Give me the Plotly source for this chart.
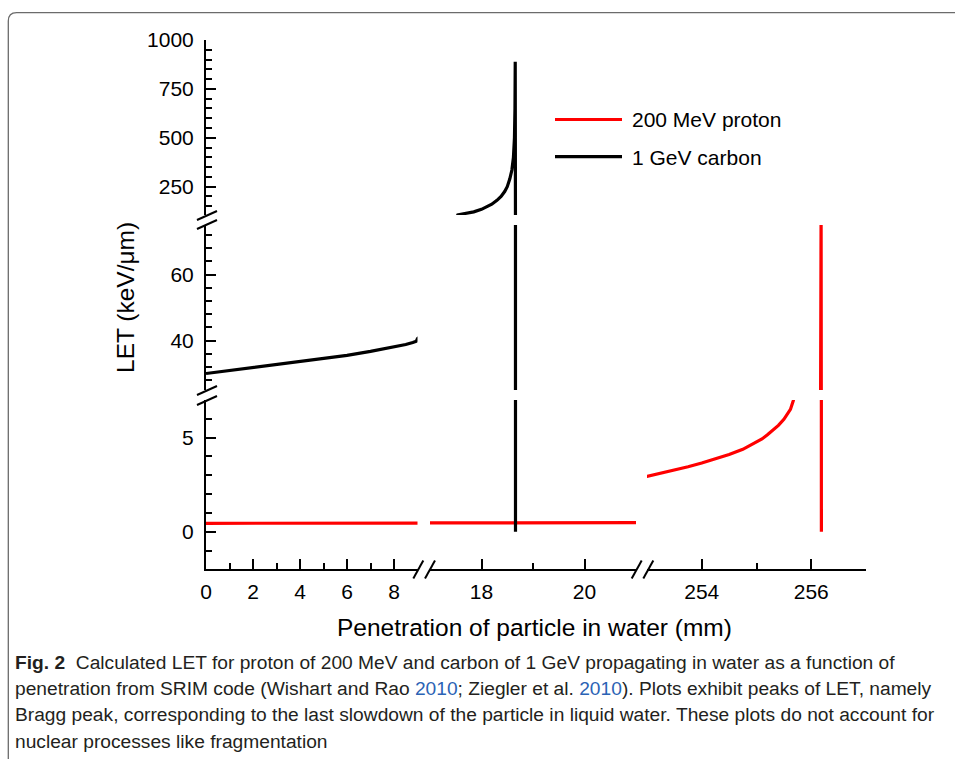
import plotly.graph_objects as go

W, H = 955, 759

# ---------------- data ----------------
proton_x = [0, 3, 6, 9, 17, 19, 21,
            253.0, 253.25, 253.5, 253.75, 254.0, 254.25, 254.5, 254.75, 255.0,
            255.1, 255.2, 255.3, 255.4, 255.5, 255.56, 255.62, 255.67, 255.72,
            256.17, 256.18, 256.185]
proton_y = [0.45, 0.46, 0.46, 0.47, 0.47, 0.48, 0.48,
            2.94, 3.1, 3.27, 3.45, 3.65, 3.87, 4.1, 4.38, 4.75,
            4.93, 5.15, 5.38, 5.65, 5.97, 6.2, 6.5, 6.95, 7.5,
            20, 80, 0]

carbon_x = [0, 1, 2, 3, 4, 5, 6, 7, 8, 8.5, 8.8, 8.95, 9.0,
            17.0, 17.5, 17.54, 17.7, 17.85, 18.0, 18.1, 18.2, 18.3, 18.38, 18.45, 18.5,
            18.55, 18.59, 18.62, 18.64, 18.65, 18.655, 18.66]
carbon_y = [30.0, 30.9, 31.8, 32.7, 33.6, 34.5, 35.5, 36.7, 38.0, 38.8, 39.4, 39.8, 40.6,
            78, 80, 106, 112, 121, 134, 145, 160, 180, 200, 225, 250,
            290, 335, 400, 500, 650, 889, 0]

series_names = ["200 MeV proton", "1 GeV carbon"]
series_colors = ["#ff0000", "#000000"]

x_ranges = [[0, 9], [17, 21], [253, 257]]
x_ticks = [[0, 2, 4, 6, 8], [18, 20], [254, 256]]
x_minor = [[1, 3, 5, 7], [19], [255, 257]]

y_ranges = [[-2, 7], [25, 75], [105, 1000]]
y_ticks = [[0, 5], [40, 60], [250, 500, 750, 1000]]
y_minor = [[-1, 1, 2, 3, 4, 6],
           [28, 32, 36, 44, 48, 52, 56, 64, 68, 72],
           [150, 200, 300, 350, 400, 450, 550, 600, 650, 700, 800, 850, 900, 950]]

x_title = "Penetration of particle in water (mm)"
y_title = "LET (keV/μm)"

caption_lines = [
    "<b>Fig. 2</b>  Calculated LET for proton of 200 MeV and carbon of 1 GeV propagating in water as a function of",
    "penetration from SRIM code (Wishart and Rao <span style='color:#2b63b5'>2010</span>; Ziegler et al. <span style='color:#2b63b5'>2010</span>). Plots exhibit peaks of LET, namely",
    "Bragg peak, corresponding to the last slowdown of the particle in liquid water. These plots do not account for",
    "nuclear processes like fragmentation",
]

# ---------------- layout geometry (pixels) ----------------
def px(x):
    return x / W

def py(y):
    return 1 - y / H

x_dom_px = [(206, 417.5), (430, 636), (647, 866)]
y_dom_px = [(569.4, 400), (390, 225), (215, 40)]   # (bottom, top)

FONT = "Liberation Sans, Arial, sans-serif"
TICKFONT = dict(family=FONT, size=21, color="black")

fig = go.Figure()

data = [(proton_x, proton_y), (carbon_x, carbon_y)]
for i in range(3):
    for j in range(3):
        xa = "x" if i == 0 else f"x{i+1}"
        ya = "y" if j == 0 else f"y{j+1}"
        for (sx, sy), name, col in zip(data, series_names, series_colors):
            fig.add_trace(go.Scatter(
                x=sx, y=sy, mode="lines", name=name,
                line=dict(color=col, width=3.2),
                xaxis=xa, yaxis=ya, showlegend=False, hoverinfo="skip",
            ))

layout = dict(
    width=W, height=H,
    margin=dict(l=0, r=0, t=0, b=0, autoexpand=False),
    paper_bgcolor="white", plot_bgcolor="rgba(0,0,0,0)",
    showlegend=False,
)

for i in range(3):
    key = "xaxis" if i == 0 else f"xaxis{i+1}"
    layout[key] = dict(
        domain=[px(x_dom_px[i][0]), px(x_dom_px[i][1])],
        range=x_ranges[i], anchor="y",
        showline=True, linecolor="black", linewidth=2,
        showgrid=False, zeroline=False,
        tickmode="array", tickvals=x_ticks[i],
        ticks="inside", ticklen=10, tickwidth=2, tickcolor="black",
        minor=dict(tickmode="array", tickvals=x_minor[i], ticks="inside",
                   ticklen=6, tickwidth=2, tickcolor="black", showgrid=False),
        tickfont=TICKFONT, ticklabelstandoff=2,
        fixedrange=True,
    )

for j in range(3):
    key = "yaxis" if j == 0 else f"yaxis{j+1}"
    b, t = y_dom_px[j]
    layout[key] = dict(
        domain=[py(b), py(t)],
        range=y_ranges[j], anchor="x",
        showline=True, linecolor="black", linewidth=2,
        showgrid=False, zeroline=False,
        tickmode="array", tickvals=y_ticks[j],
        ticks="inside", ticklen=10, tickwidth=2, tickcolor="black",
        minor=dict(tickmode="array", tickvals=y_minor[j], ticks="inside",
                   ticklen=6, tickwidth=2, tickcolor="black", showgrid=False),
        tickfont=TICKFONT, ticklabelstandoff=6,
        fixedrange=True,
    )

fig.update_layout(**layout)

shapes = []

def seg(x0, y0, x1, y1, color="black", width=2):
    shapes.append(dict(type="line", xref="paper", yref="paper",
                       x0=px(x0), y0=py(y0), x1=px(x1), y1=py(y1),
                       line=dict(color=color, width=width)))

# y-axis break marks
for cy in (215.5, 224.5, 390.5, 400.5):
    seg(197, cy + 4.5, 217, cy - 4.5)
# x-axis break marks
for cx in (418.3, 430.0, 636.7, 648.3):
    seg(cx - 5, 578.4, cx + 5, 560.4)

# legend keys
seg(555, 119.5, 622, 119.5, series_colors[0], 3.2)
seg(555, 156.7, 622, 156.7, series_colors[1], 3.2)

# caption frame (rounded top-left corner)
shapes.append(dict(
    type="path", xref="paper", yref="paper",
    path=(f"M {px(8.3)},{py(780)} L {px(8.3)},{py(21)} "
          f"Q {px(8.3)},{py(12.7)} {px(16.6)},{py(12.7)} L {px(970)},{py(12.7)}"),
    line=dict(color="#6b6b6b", width=1.3),
))

annotations = []
annotations.append(dict(text=series_names[0], x=px(630), y=py(120), xref="paper", yref="paper",
                        xanchor="left", yanchor="middle", showarrow=False,
                        font=dict(family=FONT, size=21, color="black")))
annotations.append(dict(text=series_names[1], x=px(630), y=py(157), xref="paper", yref="paper",
                        xanchor="left", yanchor="middle", showarrow=False,
                        font=dict(family=FONT, size=21, color="black")))
annotations.append(dict(text=x_title, x=px(534), y=py(627), xref="paper", yref="paper",
                        xanchor="center", yanchor="middle", showarrow=False,
                        font=dict(family=FONT, size=24.5, color="black")))
annotations.append(dict(text=y_title, x=px(125), y=py(298), xref="paper", yref="paper",
                        xanchor="center", yanchor="middle", showarrow=False, textangle=-90,
                        font=dict(family=FONT, size=24.5, color="black")))

cap_y = [662, 688, 714.5, 741]
for line, yy in zip(caption_lines, cap_y):
    annotations.append(dict(text=line, x=px(13), y=py(yy), xref="paper", yref="paper",
                            xanchor="left", yanchor="middle", showarrow=False, align="left",
                            font=dict(family=FONT, size=19.2, color="#231f20")))

fig.update_layout(shapes=shapes, annotations=annotations)

fig.write_html("out.html", config=dict(displayModeBar=False),
               post_script="document.body.style.margin='0';")
